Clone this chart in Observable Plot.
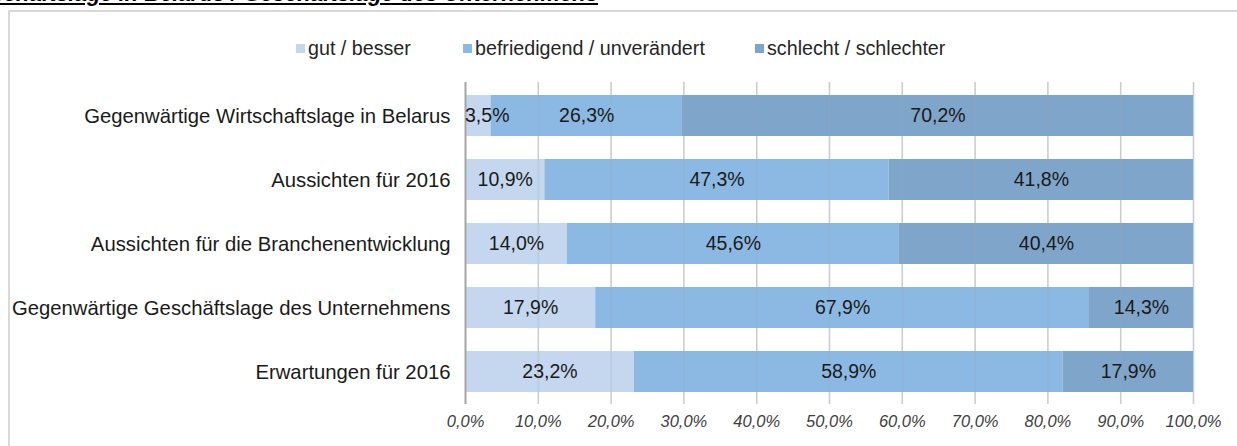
<!DOCTYPE html>
<html>
<head>
<meta charset="utf-8">
<script src="https://cdn.jsdelivr.net/npm/d3@7"></script>
<script src="https://cdn.jsdelivr.net/npm/@observablehq/plot@0.6"></script>
<style>
  html, body { margin: 0; padding: 0; background: #fff; width: 1237px; height: 446px; overflow: hidden; position: relative; font-family: "Liberation Sans", Arial, sans-serif; }
  #title { position: absolute; right: 639px; top: -17px; white-space: nowrap; font-weight: bold; font-style: italic; text-decoration: underline; font-size: 22px; line-height: 1; color: #000; }
  #frame { position: absolute; left: 8px; top: 10px; width: 1300px; height: 500px; border: 2px solid #d9d9d9; box-sizing: border-box; }
  #legend { position: absolute; left: 0; top: 36px; width: 1237px; height: 24px; font-size: 19.7px; color: #262626; }
  .item { position: absolute; top: 0; display: flex; align-items: center; height: 24px; white-space: nowrap; }
  .sw { width: 9px; height: 9px; margin-right: 3px; }
  #chart { position: absolute; left: 0; top: 70px; }
</style>
</head>
<body>
<div id="title">Wirtschaftslage in Belarus / Geschäftslage des Unternehmens</div>
<div id="frame"></div>
<div id="legend"></div>
<div id="chart"></div>
<script>
const categories = [
  "Gegenwärtige Wirtschaftslage in Belarus",
  "Aussichten für 2016",
  "Aussichten für die Branchenentwicklung",
  "Gegenwärtige Geschäftslage des Unternehmens",
  "Erwartungen für 2016"
];
const seriesNames = ["gut / besser", "befriedigend / unverändert", "schlecht / schlechter"];
const gut = [3.5, 10.9, 14.0, 17.9, 23.2];
const befriedigend = [26.3, 47.3, 45.6, 67.9, 58.9];
const schlecht = [70.2, 41.8, 40.4, 14.3, 17.9];
const colors = ["#c4d7ee", "#8cb9e3", "#80a5ca"];
const tickValues = [0, 10, 20, 30, 40, 50, 60, 70, 80, 90, 100];

const seriesValues = [gut, befriedigend, schlecht];
const data = [];
categories.forEach((c, i) => {
  seriesNames.forEach((s, j) => {
    data.push({category: c, series: s, value: seriesValues[j][i]});
  });
});
const fmt = v => v.toFixed(1).replace(".", ",") + "%";

// legend
const legendPos = [296, 463, 755];
const legend = document.getElementById("legend");
seriesNames.forEach((s, j) => {
  const it = document.createElement("div");
  it.className = "item";
  it.style.left = legendPos[j] + "px";
  it.innerHTML = `<span class="sw" style="background:${colors[j]}"></span><span>${s}</span>`;
  legend.appendChild(it);
});

const stackOpts = {offset: "normalize", x: "value", y: "category", z: "series", order: null};

const chart = Plot.plot({
  width: 1237,
  height: 376,
  marginLeft: 465,
  marginRight: 44,
  marginTop: 12,
  marginBottom: 42,
  style: {fontFamily: "Liberation Sans, Arial, sans-serif", background: "transparent"},
  x: {domain: [0, 1]},
  y: {domain: categories, paddingInner: 0.363, paddingOuter: 0.18},
  color: {domain: seriesNames, range: colors},
  marks: [
    Plot.ruleX(tickValues.slice(1), {x: d => d / 100, stroke: "#d9d9d9", strokeWidth: 1.5}),
    Plot.barX(data, Plot.stackX({...stackOpts, fill: "series"})),
    Plot.ruleX(tickValues.slice(1), {x: d => d / 100, stroke: "#9aa8b8", strokeWidth: 1.5, strokeOpacity: 0.25}),
    Plot.ruleX([0], {stroke: "#a6a6a6", strokeWidth: 2}),
    Plot.text(data, Plot.stackX({...stackOpts, text: d => d.value >= 5 ? fmt(d.value) : "", fill: "#1a1a1a", fontSize: 19.5})),
    Plot.text(data, Plot.stackX({...stackOpts, text: d => d.value < 5 ? fmt(d.value) : "", fill: "#1a1a1a", fontSize: 19.5, dx: 9})),
    Plot.axisX({ticks: tickValues.map(d => d / 100), tickFormat: d => fmt(d * 100), tickSize: 0, tickPadding: 11, fontSize: 16.5, fontStyle: "italic", fill: "#404040", label: null}),
    Plot.axisY({tickSize: 0, tickPadding: 15, fontSize: 20.3, fill: "#1a1a1a", label: null})
  ]
});
document.getElementById("chart").appendChild(chart);
</script>
</body>
</html>
